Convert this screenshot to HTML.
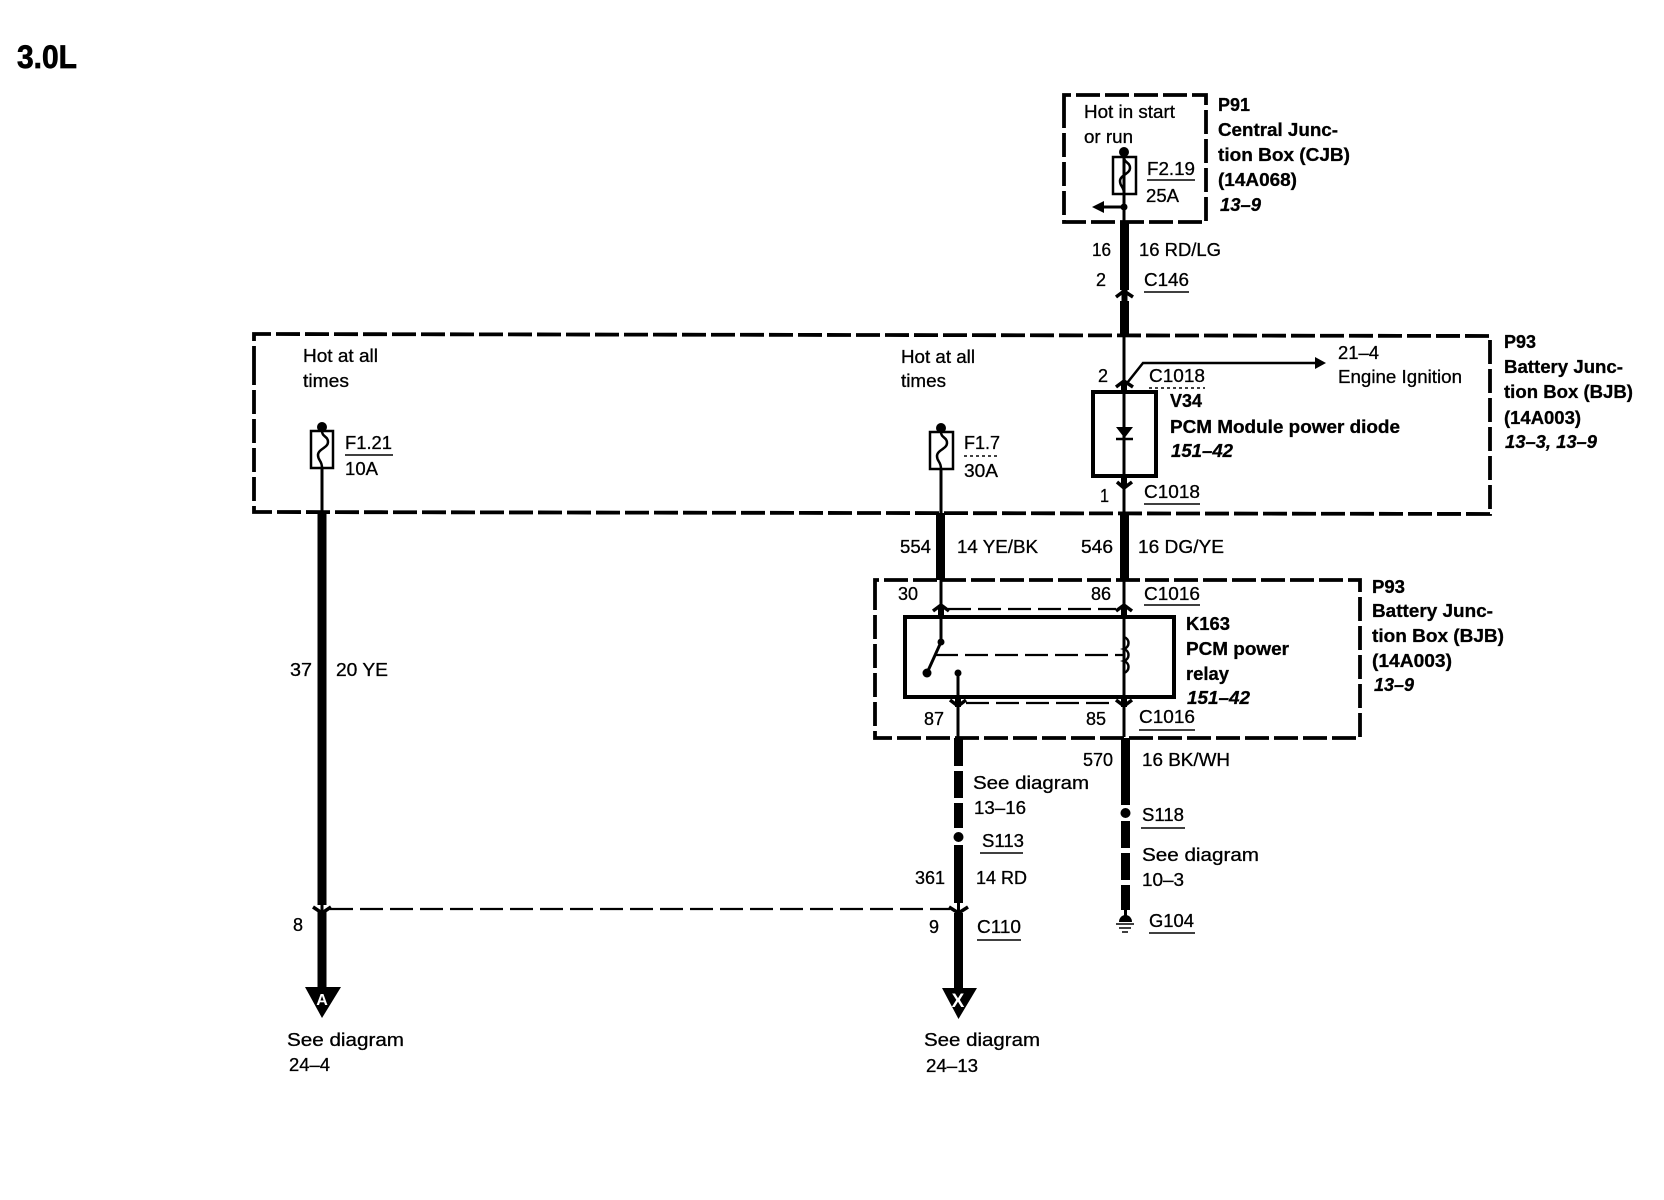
<!DOCTYPE html>
<html><head><meta charset="utf-8"><style>
html,body{margin:0;padding:0;background:#fff;width:1664px;height:1200px;overflow:hidden}
svg{display:block}
text{font-family:"Liberation Sans",sans-serif;font-size:18.5px;fill:#000;stroke:#000;stroke-width:.3}
.b{font-weight:bold;stroke-width:.3}
.i{font-weight:bold;font-style:italic;stroke-width:.3}
.w{fill:none;stroke:#000}
</style></head><body>
<svg xmlns="http://www.w3.org/2000/svg" width="1664" height="1200" viewBox="0 0 1664 1200">
<rect width="1664" height="1200" fill="#fff"/>
<g class="w" stroke-width="3.8" stroke-dasharray="24 5">
<path d="M1064 112V95H1206V222H1064V112"/>
<path d="M254 370V334L1490 336V514L254 512V370"/>
<path d="M875 600V580H1360V738H875V600"/>
</g>
<g class="w" stroke-width="2.200" stroke-dasharray="23 7">
<path d="M948 609H1116"/><path d="M966 703H1116"/><path d="M935 655H1124"/>
<path d="M330 909H950"/>
</g>
<g fill="#000">
<rect x="1120" y="222" width="9" height="68"/>
<rect x="1120" y="301" width="9" height="34"/>
<rect x="317.500" y="512" width="9" height="393"/>
<rect x="317.500" y="912" width="9" height="76"/>
<rect x="936" y="513" width="9" height="67"/>
<rect x="1120" y="514" width="9" height="66"/>
<rect x="954" y="738" width="9" height="28"/>
<rect x="954" y="771" width="9" height="27"/>
<rect x="954" y="803" width="9" height="25"/>
<rect x="954" y="845" width="9" height="58"/>
<rect x="954" y="913" width="9" height="76"/>
<rect x="1121" y="738" width="9" height="67"/>
<rect x="1121" y="821" width="9" height="27"/>
<rect x="1121" y="853" width="9" height="27"/>
<rect x="1121" y="885" width="9" height="25"/>
<circle cx="958.500" cy="837" r="5"/><circle cx="1125.500" cy="813" r="5"/>
<path d="M1119 922a6.500 7 0 0 1 13 0z"/>
<circle cx="1124" cy="152" r="5"/><circle cx="1124" cy="207" r="3.500"/>
<circle cx="322" cy="427" r="5"/><circle cx="941" cy="428" r="5"/>
<circle cx="941" cy="642" r="3.500"/><circle cx="927" cy="673" r="4.500"/><circle cx="958" cy="673" r="3.500"/>
<path d="M1092 207L1104 201V213Z"/>
<path d="M1326 363L1315 357V369Z"/>
<path d="M1116 427H1133L1124.500 438Z"/>
<path d="M305 987H341L322 1018Z"/>
<path d="M942 988H977L958.500 1019Z"/>
</g>
<g class="w" stroke-width="3">
<path d="M1124 152V222M1104 207H1124"/>
<path d="M1124 335V482M1124 487V514"/>
<path d="M322 468V512M941 469V513"/>
<path d="M941 580V642M1124 580V737M958 673V738"/>
<path d="M941 642L927 673"/>
<path d="M958.500 903V912"/><path d="M322 905V912"/><path d="M1125.500 910V917"/>
</g>
<g class="w" stroke-width="2.500">
<rect x="1113" y="157" width="23" height="37"/>
<rect x="311" y="431" width="22" height="37"/>
<rect x="930" y="432" width="23" height="37"/>
<path d="M1124 157C1124 163 1130 162 1130 168C1130 174 1120 175 1120 181C1120 187 1124 186 1124 194"/>
<path d="M322 431C322 437 328 436 328 442C328 448 318 449 318 455C318 461 322 460 322 468"/>
<path d="M941 432C941 438 947 437 947 443C947 449 937 450 937 456C937 462 941 461 941 469"/>
<path d="M1125.500 385L1143 363H1316"/>
<path d="M1116 439H1133"/>
<path d="M1124 637c6 2 6 10 0 12c6 2 6 10 0 12c6 2 6 10 0 12"/>
</g>
<g class="w" stroke-width="3.500">
<path d="M1116 297L1124 291L1133 297"/>
<path d="M1116 387L1124 381L1133 387"/>
<path d="M1117 482L1124 488L1132 482"/>
<path d="M933 611L941 605L949 611"/>
<path d="M1116 611L1124 605L1132 611"/>
<path d="M950 700L958 706L966 700"/>
<path d="M1116 700L1124 706L1132 700"/>
<path d="M313 907L322 913L331 907"/>
<path d="M949 907L958.500 913L968 907"/>
</g>
<g class="w" stroke-width="6">
<path d="M1124.500 290V301M1124 381V392M1124 476V487M941 605V616M1124 605V616M958 697V707M1124 697V707"/>
</g>
<g class="w" stroke-width="4">
<rect x="1093" y="392" width="63" height="84"/>
<rect x="905" y="617" width="269" height="80"/>
</g>
<g class="w" stroke-width="1.500">
<path d="M1147 180H1195M345 455H393M1144 292H1189M1144 504H1200M1144 605H1200M1139 730H1195M980 853H1023M977 940H1021M1141 828H1185M1149 933H1195"/>
<path d="M1116 924H1134M1119 928H1131M1122 932H1128"/>
<path d="M1149 388H1205M964 456H1000" stroke-dasharray="3 3"/>
</g>

<text class="b" style="font-size:32px;stroke-width:.7" x="17" y="68" textLength="60" lengthAdjust="spacingAndGlyphs">3.0L</text>

<text x="1084" y="118" textLength="91" lengthAdjust="spacingAndGlyphs">Hot in start</text>
<text x="1084" y="143" textLength="49" lengthAdjust="spacingAndGlyphs">or run</text>
<text x="1147" y="175" textLength="48" lengthAdjust="spacingAndGlyphs">F2.19</text>
<text x="1146" y="202" textLength="33" lengthAdjust="spacingAndGlyphs">25A</text>
<text class="b" x="1218" y="111" textLength="32" lengthAdjust="spacingAndGlyphs">P91</text>
<text class="b" x="1218" y="136" textLength="120" lengthAdjust="spacingAndGlyphs">Central Junc-</text>
<text class="b" x="1218" y="161" textLength="132" lengthAdjust="spacingAndGlyphs">tion Box (CJB)</text>
<text class="b" x="1218" y="186" textLength="79" lengthAdjust="spacingAndGlyphs">(14A068)</text>
<text class="i" x="1220" y="211" textLength="41" lengthAdjust="spacingAndGlyphs">13–9</text>
<text x="1092" y="256" textLength="19" lengthAdjust="spacingAndGlyphs">16</text>
<text x="1139" y="256" textLength="82" lengthAdjust="spacingAndGlyphs">16 RD/LG</text>
<text x="1096" y="286" textLength="10" lengthAdjust="spacingAndGlyphs">2</text>
<text x="1144" y="286" textLength="45" lengthAdjust="spacingAndGlyphs">C146</text>

<text x="303" y="362" textLength="75" lengthAdjust="spacingAndGlyphs">Hot at all</text>
<text x="303" y="387" textLength="46" lengthAdjust="spacingAndGlyphs">times</text>
<text x="345" y="449" textLength="47" lengthAdjust="spacingAndGlyphs">F1.21</text>
<text x="345" y="475" textLength="33" lengthAdjust="spacingAndGlyphs">10A</text>
<text x="901" y="363" textLength="74" lengthAdjust="spacingAndGlyphs">Hot at all</text>
<text x="901" y="387" textLength="45" lengthAdjust="spacingAndGlyphs">times</text>
<text x="964" y="449" textLength="36" lengthAdjust="spacingAndGlyphs">F1.7</text>
<text x="964" y="477" textLength="34" lengthAdjust="spacingAndGlyphs">30A</text>

<text x="1338" y="359" textLength="41" lengthAdjust="spacingAndGlyphs">21–4</text>
<text x="1338" y="383" textLength="124" lengthAdjust="spacingAndGlyphs">Engine Ignition</text>
<text x="1098" y="382" textLength="10" lengthAdjust="spacingAndGlyphs">2</text>
<text x="1149" y="382" textLength="56" lengthAdjust="spacingAndGlyphs">C1018</text>
<text class="b" x="1170" y="407" textLength="32" lengthAdjust="spacingAndGlyphs">V34</text>
<text class="b" x="1170" y="433" textLength="230" lengthAdjust="spacingAndGlyphs">PCM Module power diode</text>
<text class="i" x="1171" y="457" textLength="62" lengthAdjust="spacingAndGlyphs">151–42</text>
<text x="1100" y="502" textLength="9" lengthAdjust="spacingAndGlyphs">1</text>
<text x="1144" y="498" textLength="56" lengthAdjust="spacingAndGlyphs">C1018</text>
<text class="b" x="1504" y="348" textLength="32" lengthAdjust="spacingAndGlyphs">P93</text>
<text class="b" x="1504" y="373" textLength="119" lengthAdjust="spacingAndGlyphs">Battery Junc-</text>
<text class="b" x="1504" y="398" textLength="129" lengthAdjust="spacingAndGlyphs">tion Box (BJB)</text>
<text class="b" x="1504" y="424" textLength="77" lengthAdjust="spacingAndGlyphs">(14A003)</text>
<text class="i" x="1505" y="448" textLength="92" lengthAdjust="spacingAndGlyphs">13–3, 13–9</text>

<text x="900" y="553" textLength="31" lengthAdjust="spacingAndGlyphs">554</text>
<text x="957" y="553" textLength="81" lengthAdjust="spacingAndGlyphs">14 YE/BK</text>
<text x="1081" y="553" textLength="32" lengthAdjust="spacingAndGlyphs">546</text>
<text x="1138" y="553" textLength="86" lengthAdjust="spacingAndGlyphs">16 DG/YE</text>

<text x="898" y="600" textLength="20" lengthAdjust="spacingAndGlyphs">30</text>
<text x="1091" y="600" textLength="20" lengthAdjust="spacingAndGlyphs">86</text>
<text x="1144" y="600" textLength="56" lengthAdjust="spacingAndGlyphs">C1016</text>
<text class="b" x="1186" y="630" textLength="44" lengthAdjust="spacingAndGlyphs">K163</text>
<text class="b" x="1186" y="655" textLength="103" lengthAdjust="spacingAndGlyphs">PCM power</text>
<text class="b" x="1186" y="680" textLength="43" lengthAdjust="spacingAndGlyphs">relay</text>
<text class="i" x="1187" y="704" textLength="63" lengthAdjust="spacingAndGlyphs">151–42</text>
<text x="924" y="725" textLength="20" lengthAdjust="spacingAndGlyphs">87</text>
<text x="1086" y="725" textLength="20" lengthAdjust="spacingAndGlyphs">85</text>
<text x="1139" y="723" textLength="56" lengthAdjust="spacingAndGlyphs">C1016</text>
<text class="b" x="1372" y="593" textLength="33" lengthAdjust="spacingAndGlyphs">P93</text>
<text class="b" x="1372" y="617" textLength="121" lengthAdjust="spacingAndGlyphs">Battery Junc-</text>
<text class="b" x="1372" y="642" textLength="132" lengthAdjust="spacingAndGlyphs">tion Box (BJB)</text>
<text class="b" x="1372" y="667" textLength="80" lengthAdjust="spacingAndGlyphs">(14A003)</text>
<text class="i" x="1374" y="691" textLength="40" lengthAdjust="spacingAndGlyphs">13–9</text>

<text x="290" y="676" textLength="22" lengthAdjust="spacingAndGlyphs">37</text>
<text x="336" y="676" textLength="52" lengthAdjust="spacingAndGlyphs">20 YE</text>
<text x="293" y="931" textLength="10" lengthAdjust="spacingAndGlyphs">8</text>
<text x="929" y="933" textLength="10" lengthAdjust="spacingAndGlyphs">9</text>

<text x="1083" y="766" textLength="30" lengthAdjust="spacingAndGlyphs">570</text>
<text x="1142" y="766" textLength="88" lengthAdjust="spacingAndGlyphs">16 BK/WH</text>
<text x="973" y="789" textLength="116" lengthAdjust="spacingAndGlyphs">See diagram</text>
<text x="974" y="814" textLength="52" lengthAdjust="spacingAndGlyphs">13–16</text>
<text x="982" y="847" textLength="42" lengthAdjust="spacingAndGlyphs">S113</text>
<text x="915" y="884" textLength="30" lengthAdjust="spacingAndGlyphs">361</text>
<text x="976" y="884" textLength="51" lengthAdjust="spacingAndGlyphs">14 RD</text>
<text x="977" y="933" textLength="44" lengthAdjust="spacingAndGlyphs">C110</text>
<text x="1142" y="821" textLength="42" lengthAdjust="spacingAndGlyphs">S118</text>
<text x="1142" y="861" textLength="117" lengthAdjust="spacingAndGlyphs">See diagram</text>
<text x="1142" y="886" textLength="42" lengthAdjust="spacingAndGlyphs">10–3</text>
<text x="1149" y="927" textLength="45" lengthAdjust="spacingAndGlyphs">G104</text>

<text x="287" y="1046" textLength="117" lengthAdjust="spacingAndGlyphs">See diagram</text>
<text x="289" y="1071" textLength="41" lengthAdjust="spacingAndGlyphs">24–4</text>
<text x="924" y="1046" textLength="116" lengthAdjust="spacingAndGlyphs">See diagram</text>
<text x="926" y="1072" textLength="52" lengthAdjust="spacingAndGlyphs">24–13</text>

<text class="b" x="322" y="1005" text-anchor="middle" style="font-size:16px;fill:#fff;stroke:none">A</text>
<text class="b" x="958" y="1007" text-anchor="middle" style="font-size:19px;fill:#fff;stroke:none">X</text>
</svg>
</body></html>
